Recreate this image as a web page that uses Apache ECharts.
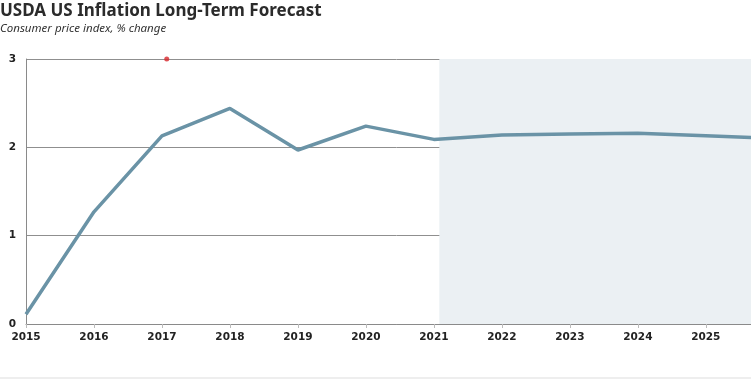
<!DOCTYPE html>
<html><head><meta charset="utf-8">
<script src="https://cdn.jsdelivr.net/npm/echarts@6/dist/echarts.min.js"></script>
<style>html,body{margin:0;padding:0;background:#fff;overflow:hidden}#c{width:770px;height:381px}</style>
</head><body><div id="c"></div>
<script>
const years = [2015, 2016, 2017, 2018, 2019, 2020, 2021, 2022, 2023, 2024, 2025, 2026];
const cpiChange = [0.11, 1.27, 2.13, 2.44, 1.97, 2.24, 2.09, 2.14, 2.15, 2.16, 2.13, 2.10];
const forecastStart = 2021.08;
const yTicks = [0, 1, 2, 3];
const markerPoint = [[2017.07, 3]];
const xMax = 2025.9;

const chart = echarts.init(document.getElementById('c'), null, {renderer: 'canvas'});
const fontFam = '"Noto Sans", "Open Sans", sans-serif';
const labelFam = '"DejaVu Sans", Verdana, sans-serif';
chart.setOption({
  animation: false,
  backgroundColor: '#fff',
  title: {
    text: 'USDA US Inflation Long-Term Forecast',
    subtext: 'Consumer price index, % change',
    left: -5, top: -2,
    itemGap: 3,
    textStyle: {fontFamily: fontFam, fontSize: 17, fontWeight: 'bold', color: '#2b2b2b'},
    subtextStyle: {fontFamily: fontFam, fontSize: 11.5, fontStyle: 'italic', color: '#333'}
  },
  grid: {left: 26, right: 0, top: 59, bottom: 57, containLabel: false},
  xAxis: {
    type: 'value', min: 2015, max: xMax, interval: 1,
    axisLine: {show: true, lineStyle: {color: '#8a8a8a', width: 1}},
    axisTick: {show: true, length: 4, lineStyle: {color: '#bbb'}},
    splitLine: {show: false},
    axisLabel: {
      fontFamily: labelFam, fontSize: 10.5, fontWeight: 'bold', color: '#222', margin: 8,
      formatter: v => Number.isInteger(v) ? String(v) : ''
    }
  },
  yAxis: {
    type: 'value', min: 0, max: 3, interval: 1,
    axisLine: {show: true, lineStyle: {color: '#8a8a8a', width: 1}},
    axisTick: {show: false},
    splitLine: {show: true, lineStyle: {color: '#8f8f8f', width: 1}},
    axisLabel: {fontFamily: labelFam, fontSize: 10.5, fontWeight: 'bold', color: '#222', margin: 10,
      formatter: v => yTicks.includes(v) ? String(v) : ''}
  },
  series: [
    {
      type: 'line',
      data: years.map((y, i) => [y, cpiChange[i]]),
      showSymbol: false,
      clip: true,
      lineStyle: {color: '#6a93a6', width: 3.5},
      z: 3,
      markArea: {
        silent: true,
        itemStyle: {color: '#ebf0f3'},
        data: [[{xAxis: forecastStart}, {xAxis: xMax}]]
      }
    },
    {
      type: 'scatter',
      data: markerPoint,
      symbolSize: 5,
      itemStyle: {color: '#d7262b'},
      z: 5
    }
  ],
  graphic: [{
    type: 'line', shape: {x1: 0, y1: 378, x2: 770, y2: 378},
    style: {stroke: '#ddd', lineWidth: 1}
  }]
});
</script></body></html>
